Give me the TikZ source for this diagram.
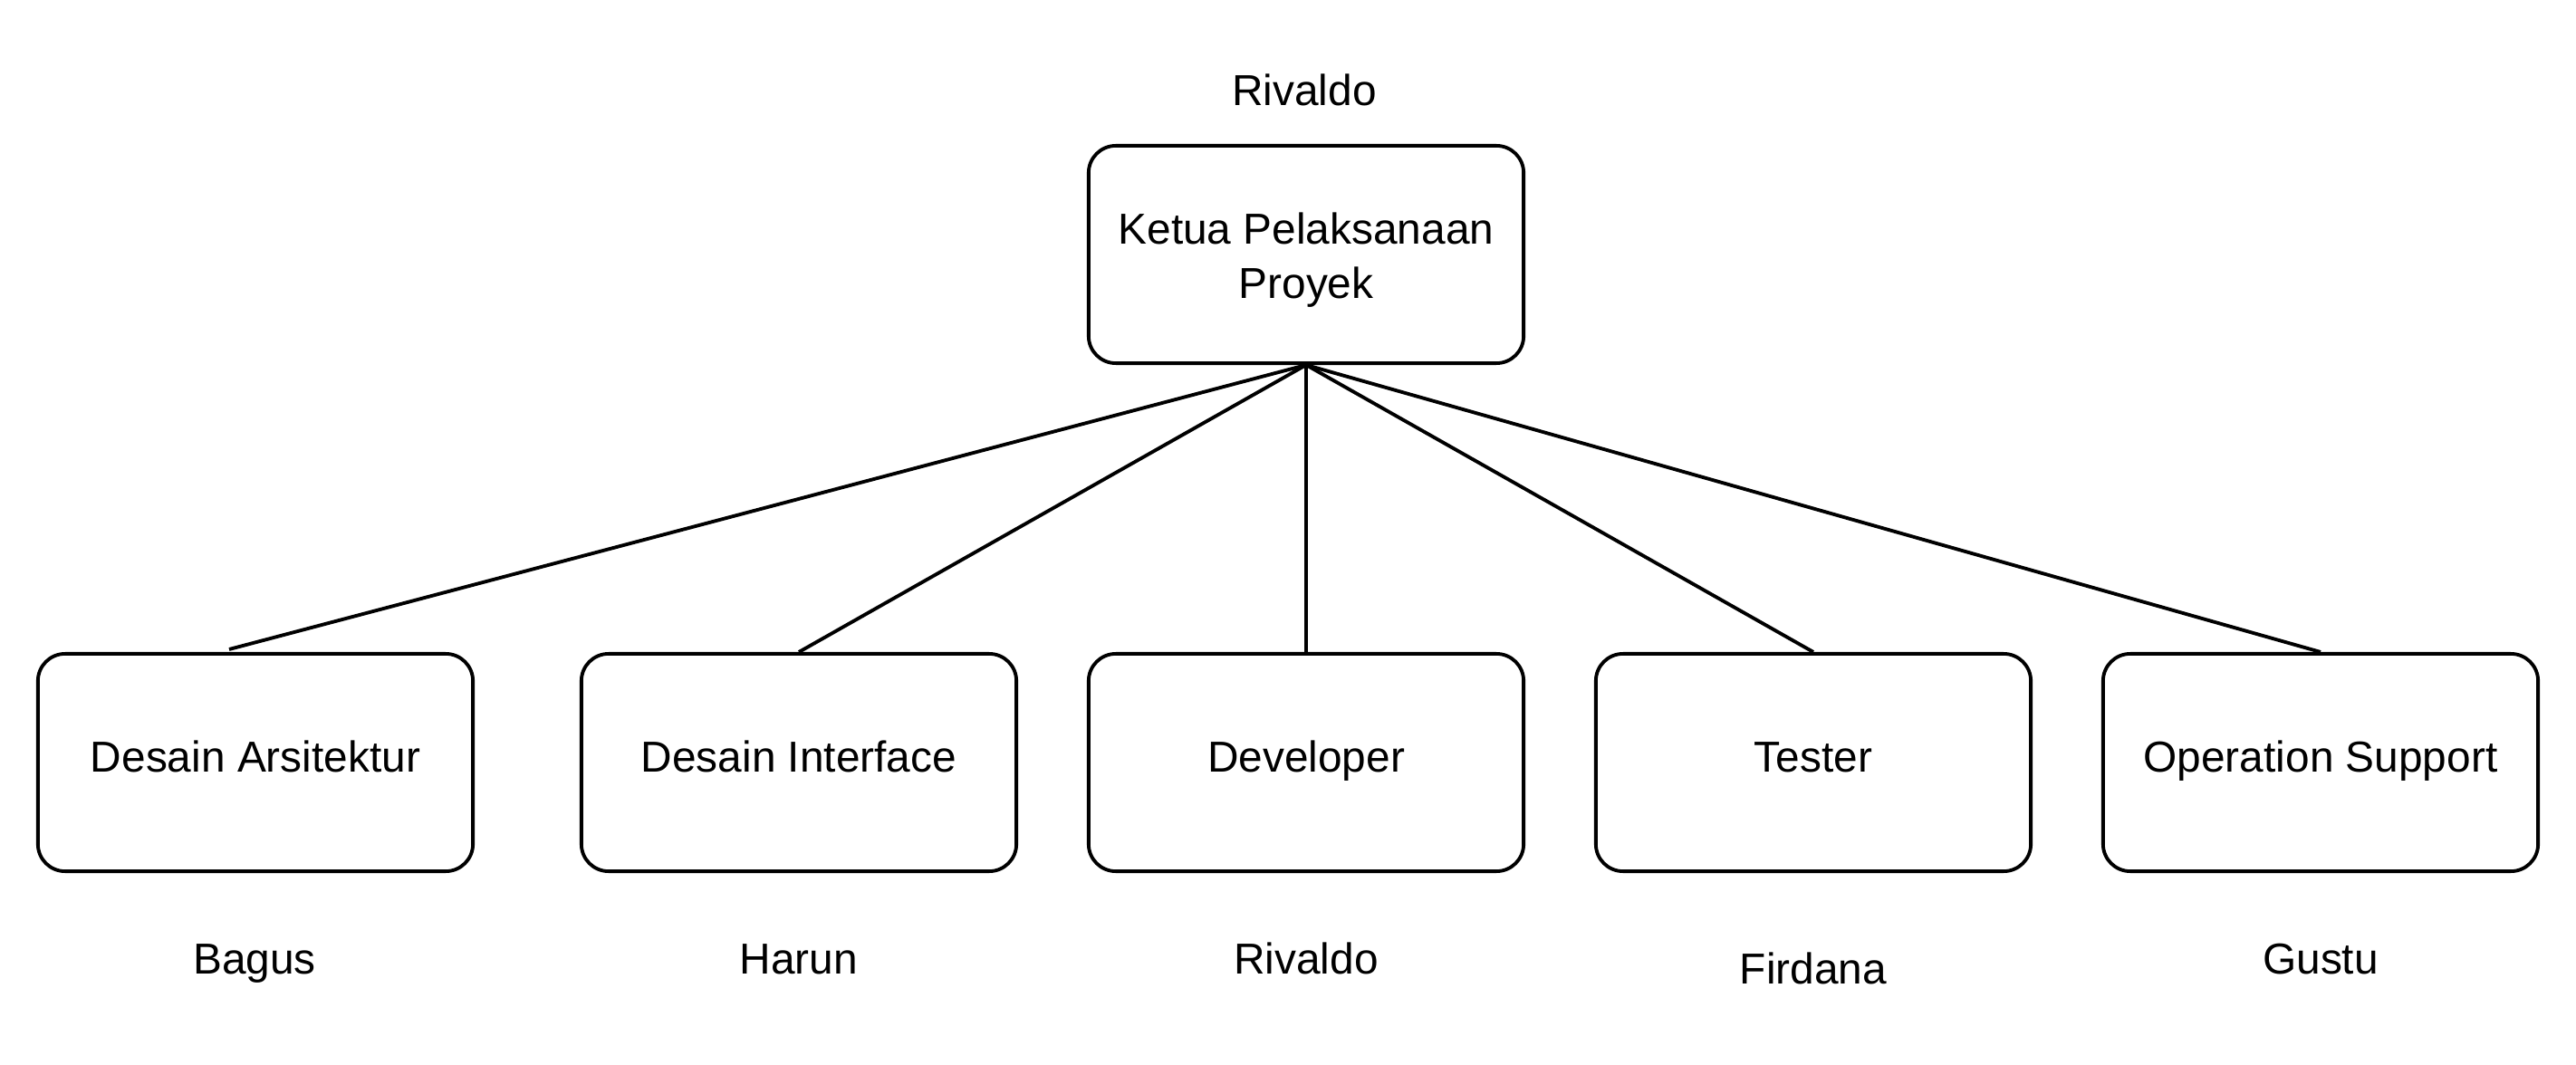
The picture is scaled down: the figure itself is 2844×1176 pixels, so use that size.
\documentclass[tikz,border=0pt]{standalone}
\usepackage{fontspec}
\setmainfont{Liberation Sans}
\begin{document}
\begin{tikzpicture}[x=0.01cm,y=-0.01cm,
  txt/.style={font=\fontsize{13.6}{17}\selectfont},
  box/.style={draw, line width=1.1pt, rounded corners=0.3cm, minimum width=4.8cm,
    minimum height=2.4cm, inner sep=0pt, align=center, txt},
  single/.style={text height=0.8em, text depth=0.21em},
  lbl/.style={anchor=base, inner sep=0pt, txt},
  link/.style={line width=1.1pt}]
\useasboundingbox (0,0) rectangle (2844,1176);

\node[box] (ketua) at (1442,281) {};
\node[align=center, inner sep=0pt, txt] (ketuatxt) at (1442,287) {Ketua Pelaksanaan\\Proyek};
\node[box, single] (arsi) at (282,842) {Desain Arsitektur};
\node[box, single] (inter) at (882,842) {Desain Interface};
\node[box, single] (dev) at (1442,842) {Developer};
\node[box, single] (test) at (2002,842) {Tester};
\node[box, single] (ops) at (2562,842) {Operation Support};

\node[lbl] (nketua) at (1440,117) {Rivaldo};
\node[lbl] (narsi) at (281,1075) {Bagus};
\node[lbl] (ninter) at (882,1075) {Harun};
\node[lbl] (ndev) at (1442,1075) {Rivaldo};
\node[lbl] (ntest) at (2002,1086) {Firdana};
\node[lbl] (nops) at (2562,1075) {Gustu};

\coordinate (arsiend) at (253,717);
\draw[link] (ketua.south) -- (arsiend);
\draw[link] (ketua.south) -- (inter.north);
\draw[link] (ketua.south) -- (dev.north);
\draw[link] (ketua.south) -- (test.north);
\draw[link] (ketua.south) -- (ops.north);
\end{tikzpicture}
\end{document}
